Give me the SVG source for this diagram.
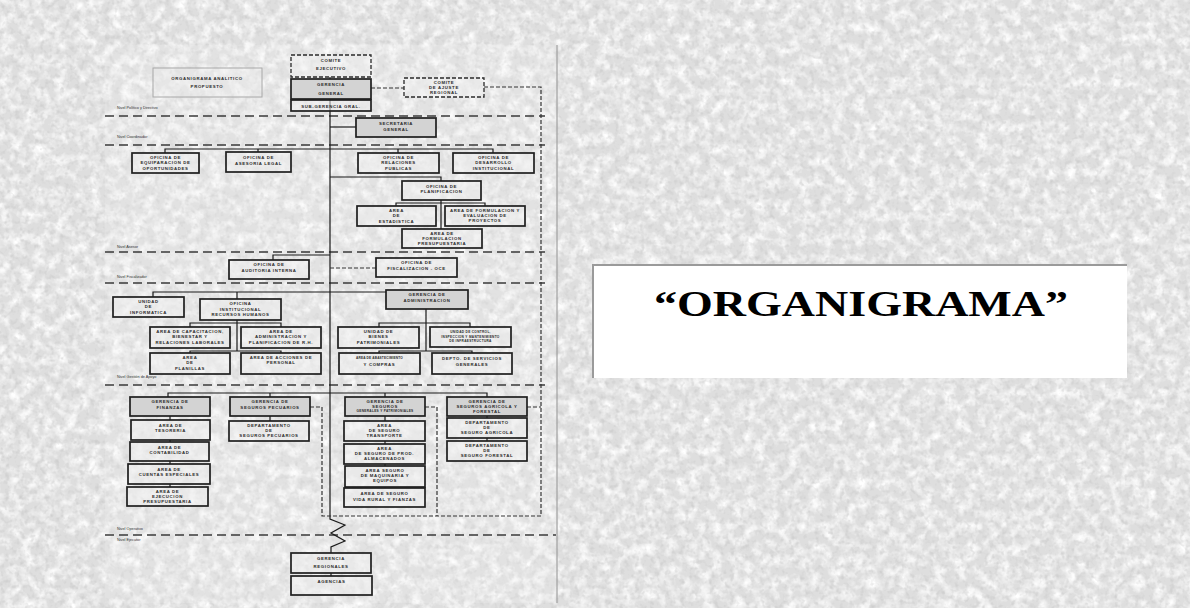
<svg xmlns="http://www.w3.org/2000/svg" width="1190" height="608" viewBox="0 0 1190 608">
<style>
.b{fill:#eeeeee;fill-opacity:.55;stroke:#1e1e1e;stroke-width:1.7}
.g{fill:#d3d3d3;stroke:#1e1e1e;stroke-width:1.7}
.d{fill:#efefef;fill-opacity:.5;stroke:#2a2a2a;stroke-width:1.3;stroke-dasharray:4 2}
.t{font-family:"Liberation Sans",Arial,sans-serif;font-weight:bold;font-size:4.3px;letter-spacing:.65px;text-anchor:middle;fill:#2a2a2a}
.s{font-size:3.2px;letter-spacing:.3px}
.lv{font-family:"Liberation Sans",Arial,sans-serif;font-size:3.8px;fill:#333}
.c{fill:none;stroke:#1a1a1a;stroke-width:1.2}
.cd{fill:none;stroke:#333;stroke-width:1.2;stroke-dasharray:4 2}
.lvl{fill:none;stroke:#3a3a3a;stroke-width:1.3;stroke-dasharray:9 5}
</style>
<defs>
<filter id="tex" x="0" y="0" width="100%" height="100%">
<feTurbulence type="fractalNoise" baseFrequency="0.09" numOctaves="3" seed="7"/>
<feColorMatrix type="matrix" values="0 0 0 0 1  0 0 0 0 1  0 0 0 0 1  2.2 0 0 0 -0.85"/>
</filter>
<filter id="tex2" x="0" y="0" width="100%" height="100%">
<feTurbulence type="fractalNoise" baseFrequency="0.2" numOctaves="2" seed="3"/>
<feColorMatrix type="matrix" values="0 0 0 0 0.55  0 0 0 0 0.55  0 0 0 0 0.55  2 0 0 0 -1"/>
</filter>
</defs>
<rect width="1190" height="608" fill="#dedede"/>
<rect width="1190" height="608" filter="url(#tex)"/>
<rect width="1190" height="608" filter="url(#tex2)" opacity=".75"/>
<rect x="105" y="45" width="452" height="558" fill="#f6f6f6" opacity=".2"/>
<line x1="557" y1="45" x2="557" y2="603" stroke="#a0a0a0" stroke-width="1.2"/>

<g id="title-box">
<rect x="593" y="265" width="534" height="113" fill="#ffffff"/>
<path d="M593 378V265H1127" fill="none" stroke="#9a9a9a" stroke-width="2"/>
<text x="861" y="316" font-family="'Liberation Serif','Times New Roman',serif" font-weight="bold" font-size="35" text-anchor="middle" textLength="414" lengthAdjust="spacingAndGlyphs" fill="#000">“ORGANIGRAMA”</text>
</g>

<g id="levels">
<path class="lvl" d="M105 116H545M105 145H545M105 252H545M105 283H545M105 385H545M105 535H556"/>
<text class="lv" x="117" y="109">Nivel Político y Directivo</text>
<text class="lv" x="117" y="138">Nivel Coordinador</text>
<text class="lv" x="117" y="248">Nivel Asesor</text>
<text class="lv" x="117" y="278">Nivel Fiscalizador</text>
<text class="lv" x="117" y="378">Nivel Gestión de Apoyo</text>
<text class="lv" x="117" y="530">Nivel Operativo</text>
<text class="lv" x="117" y="541">Nivel Ejecutor</text>
</g>

<g id="connectors">
<path class="c" d="M330 77V519L345 525L331 533L345 541L331 547V553"/>
<path class="c" d="M330 127H356"/>
<path class="c" d="M165 153V149H493V153M258 149V152M398 149V153"/>
<path class="c" d="M330 177H441V181M441 200V229M396 206V203H485V206"/>
<path class="c" d="M330 255H273V260"/>
<path class="cd" d="M330 268H376"/>
<path class="c" d="M153 297V292H386M237 292V299"/>
<path class="c" d="M237 320V351M190 327V323H281V327M190 353V351H281V353"/>
<path class="c" d="M426 309V351M379 327V323H470V327M379 353V351H472V353"/>
<path class="c" d="M168 397V393H487V397M270 393V397M385 393V397"/>
<path class="c" d="M170 416V420M170 440V442M170 461V464M170 484V487"/>
<path class="c" d="M270 416V421"/>
<path class="c" d="M385 416V421M385 441V444M385 464V466M385 487V488"/>
<path class="c" d="M487 416V418M487 438V441"/>
<path class="c" d="M331 573V576"/>
<path class="cd" d="M371 88H404M484 87H541V516H322V407H310M425 407H437V516M527 407H541"/>
</g>

<g id="comite-ejecutivo"><rect class="d" x="291" y="55" width="80" height="22"/><text class="t" x="331" y="62">COMITE</text><text class="t" x="331" y="70">EJECUTIVO</text></g>
<g id="organigrama-propuesto"><rect x="153" y="68" width="109" height="29" fill="#eeeeee" fill-opacity=".4" stroke="#a8a8a8" stroke-width="1"/><text class="t" x="207" y="80">ORGANIGRAMA ANALITICO</text><text class="t" x="207" y="88">PROPUESTO</text></g>
<g id="gerencia-general"><rect class="g" x="291" y="79" width="80" height="20"/><text class="t" x="331" y="86">GERENCIA</text><text class="t" x="331" y="95">GENERAL</text></g>
<g id="comite-ajuste"><rect class="d" x="404" y="78" width="80" height="19"/><text class="t" x="444" y="84">COMITE</text><text class="t" x="444" y="89">DE AJUSTE</text><text class="t" x="444" y="94">REGIONAL</text></g>
<g id="sub-gerencia"><rect class="b" x="291" y="100" width="80" height="11"/><text class="t" x="331" y="107.5">SUB-GERENCIA GRAL.</text></g>
<g id="secretaria-general"><rect class="g" x="356" y="118" width="80" height="19"/><text class="t" x="396" y="125">SECRETARIA</text><text class="t" x="396" y="131">GENERAL</text></g>

<g id="of-equiparacion"><rect class="b" x="132" y="153" width="67" height="20"/><text class="t" x="165.5" y="159">OFICINA DE</text><text class="t" x="165.5" y="164">EQUIPARACION DE</text><text class="t" x="165.5" y="169.5">OPORTUNIDADES</text></g>
<g id="of-asesoria"><rect class="b" x="226" y="152" width="65" height="20"/><text class="t" x="258.5" y="159">OFICINA DE</text><text class="t" x="258.5" y="165">ASESORIA LEGAL</text></g>
<g id="of-rrpp"><rect class="b" x="358" y="153" width="81" height="20"/><text class="t" x="398.5" y="159">OFICINA DE</text><text class="t" x="398.5" y="164">RELACIONES</text><text class="t" x="398.5" y="169.5">PUBLICAS</text></g>
<g id="of-desarrollo"><rect class="b" x="453" y="153" width="81" height="20"/><text class="t" x="493.5" y="159">OFICINA DE</text><text class="t" x="493.5" y="164">DESARROLLO</text><text class="t" x="493.5" y="169.5">INSTITUCIONAL</text></g>
<g id="of-planificacion"><rect class="b" x="402" y="181" width="79" height="19"/><text class="t" x="441.5" y="188">OFICINA DE</text><text class="t" x="441.5" y="193">PLANIFICACION</text></g>
<g id="area-estadistica"><rect class="b" x="357" y="206" width="79" height="20"/><text class="t" x="396.5" y="212">AREA</text><text class="t" x="396.5" y="217">DE</text><text class="t" x="396.5" y="222.5">ESTADISTICA</text></g>
<g id="area-form-eval"><rect class="b" x="445" y="206" width="80" height="20"/><text class="t" x="485" y="212">AREA DE FORMULACION Y</text><text class="t" x="485" y="217">EVALUACION DE</text><text class="t" x="485" y="222">PROYECTOS</text></g>
<g id="area-form-presup"><rect class="b" x="402" y="229" width="80" height="19"/><text class="t" x="442" y="235">AREA DE</text><text class="t" x="442" y="240">FORMULACION</text><text class="t" x="442" y="245">PRESUPUESTARIA</text></g>

<g id="auditoria"><rect class="b" x="229" y="260" width="80" height="19"/><text class="t" x="269" y="266">OFICINA DE</text><text class="t" x="269" y="272">AUDITORIA INTERNA</text></g>
<g id="fiscalizacion"><rect class="b" x="376" y="258" width="81" height="19"/><text class="t" x="416.5" y="264">OFICINA DE</text><text class="t" x="416.5" y="270">FISCALIZACION - OCE</text></g>

<g id="informatica"><rect class="b" x="113" y="297" width="71" height="20"/><text class="t" x="148.5" y="303">UNIDAD</text><text class="t" x="148.5" y="308">DE</text><text class="t" x="148.5" y="314">INFORMATICA</text></g>
<g id="rrhh"><rect class="b" x="200" y="299" width="81" height="21"/><text class="t" x="240.5" y="305">OFICINA</text><text class="t" x="240.5" y="310.5">INSTITUCIONAL</text><text class="t" x="240.5" y="316">RECURSOS HUMANOS</text></g>
<g id="gerencia-administracion"><rect class="g" x="386" y="290" width="82" height="19"/><text class="t" x="427" y="296">GERENCIA DE</text><text class="t" x="427" y="302">ADMINISTRACION</text></g>
<g id="area-capacitacion"><rect class="b" x="150" y="327" width="80" height="21"/><text class="t" x="190" y="333">AREA DE CAPACITACION,</text><text class="t" x="190" y="338">BIENESTAR Y</text><text class="t" x="190" y="344">RELACIONES LABORALES</text></g>
<g id="area-adm-rh"><rect class="b" x="241" y="327" width="80" height="21"/><text class="t" x="281" y="333">AREA DE</text><text class="t" x="281" y="338">ADMINISTRACION Y</text><text class="t" x="281" y="344">PLANIFICACION DE R.H.</text></g>
<g id="area-planillas"><rect class="b" x="150" y="353" width="80" height="21"/><text class="t" x="190" y="359">AREA</text><text class="t" x="190" y="364">DE</text><text class="t" x="190" y="370">PLANILLAS</text></g>
<g id="area-acciones"><rect class="b" x="241" y="353" width="80" height="21"/><text class="t" x="281" y="359">AREA DE ACCIONES DE</text><text class="t" x="281" y="364">PERSONAL</text></g>
<g id="bienes"><rect class="b" x="338" y="327" width="81" height="21"/><text class="t" x="378.5" y="333">UNIDAD DE</text><text class="t" x="378.5" y="338">BIENES</text><text class="t" x="378.5" y="344">PATRIMONIALES</text></g>
<g id="control"><rect class="b" x="430" y="327" width="81" height="20"/><text class="t s" x="470.5" y="333">UNIDAD DE CONTROL,</text><text class="t s" x="470.5" y="337.5">INSPECCION Y MANTENIMIENTO</text><text class="t s" x="470.5" y="342">DE INFRAESTRUCTURA</text></g>
<g id="abastecimiento"><rect class="b" x="339" y="353" width="81" height="21"/><text class="t s" x="379.5" y="359" style="letter-spacing:.15px">AREA DE ABASTECIMIENTO</text><text class="t" x="379.5" y="366">Y COMPRAS</text></g>
<g id="servicios-generales"><rect class="b" x="432" y="353" width="80" height="21"/><text class="t" x="472" y="359.5">DEPTO. DE SERVICIOS</text><text class="t" x="472" y="365.5">GENERALES</text></g>

<g id="gerencia-finanzas"><rect class="g" x="130" y="397" width="80" height="19"/><text class="t" x="170" y="403">GERENCIA DE</text><text class="t" x="170" y="408.5">FINANZAS</text></g>
<g id="tesoreria"><rect class="b" x="131" y="420" width="79" height="20"/><text class="t" x="170.5" y="426.5">AREA DE</text><text class="t" x="170.5" y="431.5">TESORERIA</text></g>
<g id="contabilidad"><rect class="b" x="130" y="442" width="79" height="19"/><text class="t" x="169.5" y="448.5">AREA DE</text><text class="t" x="169.5" y="453.5">CONTABILIDAD</text></g>
<g id="cuentas-especiales"><rect class="b" x="128" y="464" width="82" height="20"/><text class="t" x="169" y="470.5">AREA DE</text><text class="t" x="169" y="476">CUENTAS ESPECIALES</text></g>
<g id="ejecucion-presup"><rect class="b" x="127" y="487" width="81" height="19"/><text class="t" x="167.5" y="492.5">AREA DE</text><text class="t" x="167.5" y="497.5">EJECUCION</text><text class="t" x="167.5" y="502.5">PRESUPUESTARIA</text></g>
<g id="gerencia-pecuarios"><rect class="g" x="230" y="397" width="80" height="19"/><text class="t" x="270" y="403">GERENCIA DE</text><text class="t" x="270" y="408.5">SEGUROS PECUARIOS</text></g>
<g id="dep-pecuarios"><rect class="b" x="229" y="421" width="80" height="20"/><text class="t" x="269" y="426.5">DEPARTAMENTO</text><text class="t" x="269" y="431.5">DE</text><text class="t" x="269" y="436.5">SEGUROS PECUARIOS</text></g>
<g id="gerencia-seguros"><rect class="g" x="345" y="397" width="80" height="19"/><text class="t" x="385" y="402.5">GERENCIA DE</text><text class="t" x="385" y="407.5">SEGUROS</text><text class="t s" x="385" y="411.5">GENERALES Y PATRIMONIALES</text></g>
<g id="seguro-transporte"><rect class="b" x="344" y="421" width="81" height="20"/><text class="t" x="384.5" y="426.5">AREA</text><text class="t" x="384.5" y="431.5">DE SEGURO</text><text class="t" x="384.5" y="436.5">TRANSPORTE</text></g>
<g id="seguro-almacen"><rect class="b" x="344" y="444" width="81" height="20"/><text class="t" x="384.5" y="449.5">AREA</text><text class="t" x="384.5" y="454.5">DE SEGURO DE PROD.</text><text class="t" x="384.5" y="459.5">ALMACENADOS</text></g>
<g id="seguro-maquinaria"><rect class="b" x="345" y="466" width="80" height="21"/><text class="t" x="385" y="472">AREA SEGURO</text><text class="t" x="385" y="477">DE MAQUINARIA Y</text><text class="t" x="385" y="482">EQUIPOS</text></g>
<g id="seguro-vida"><rect class="b" x="344" y="488" width="81" height="19"/><text class="t" x="384.5" y="494.5">AREA DE SEGURO</text><text class="t" x="384.5" y="500.5">VIDA RURAL Y FIANZAS</text></g>
<g id="gerencia-agricola"><rect class="g" x="447" y="397" width="80" height="19"/><text class="t" x="487" y="402.5">GERENCIA DE</text><text class="t" x="487" y="407.5">SEGUROS AGRICOLA Y</text><text class="t" x="487" y="412.5">FORESTAL</text></g>
<g id="dep-agricola"><rect class="b" x="447" y="418" width="80" height="20"/><text class="t" x="487" y="423.5">DEPARTAMENTO</text><text class="t" x="487" y="428.5">DE</text><text class="t" x="487" y="434">SEGURO AGRICOLA</text></g>
<g id="dep-forestal"><rect class="b" x="447" y="441" width="80" height="20"/><text class="t" x="487" y="446.5">DEPARTAMENTO</text><text class="t" x="487" y="451.5">DE</text><text class="t" x="487" y="457">SEGURO FORESTAL</text></g>

<g id="gerencias-regionales"><rect class="b" x="291" y="553" width="80" height="20"/><text class="t" x="331" y="559.5">GERENCIA</text><text class="t" x="331" y="567.5">REGIONALES</text></g>
<g id="agencias"><rect class="b" x="291" y="576" width="81" height="19"/><text class="t" x="331.5" y="582.5">AGENCIAS</text></g>
</svg>
